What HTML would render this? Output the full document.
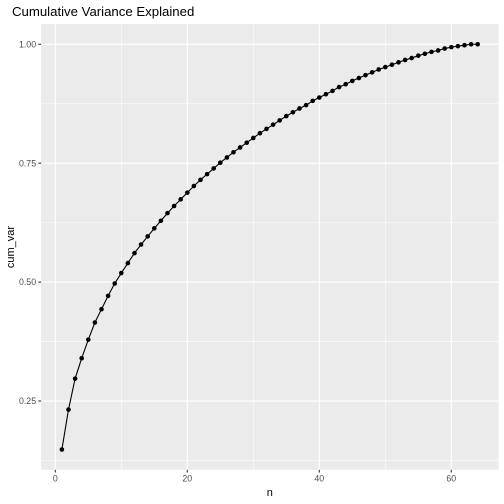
<!DOCTYPE html>
<html><head><meta charset="utf-8"><style>
body{margin:0;background:#fff;}
svg{display:block;font-family:"Liberation Sans",sans-serif;}
</style></head><body>
<svg id="chart" width="504" height="504">
<text x="12" y="16" font-size="13.2" fill="#000">Cumulative Variance Explained</text>
<rect x="41.1" y="24" width="457.4" height="445.8" fill="#EBEBEB"/>
<g id="grid"></g>
<g id="axes"></g>
<g id="marks"></g>
<text x="269.8" y="496" font-size="11" text-anchor="middle" fill="#000">n</text>
<text transform="translate(14,247) rotate(-90)" font-size="11" text-anchor="middle" fill="#000">cum_var</text>
</svg>
<script>
const nValues = Array.from({length:64},(_, i)=>i+1);
const cumVar = [0.148,0.232,0.297,0.340,0.379,0.415,0.443,0.471,0.497,0.519,0.540,0.561,0.579,0.596,0.613,0.629,0.645,0.660,0.674,0.688,0.702,0.715,0.727,0.739,0.751,0.762,0.773,0.783,0.793,0.803,0.813,0.822,0.831,0.840,0.849,0.857,0.865,0.872,0.881,0.888,0.895,0.902,0.910,0.916,0.923,0.929,0.935,0.941,0.947,0.952,0.957,0.962,0.967,0.971,0.976,0.980,0.984,0.987,0.991,0.994,0.996,0.998,1.000,1.000];
const xTicks = [0,20,40,60];
const xMinor = [10,30,50];
const yTicks = [0.25,0.50,0.75,1.00];
const yTickLabels = ["0.25","0.50","0.75","1.00"];
const yMinor = [0.125,0.375,0.625,0.875];

const NS="http://www.w3.org/2000/svg";
const L=41.1,R=498.5,T=24,B=469.8;
const xmin=Math.min(...nValues),xmax=Math.max(...nValues);
const ymin=Math.min(...cumVar),ymax=Math.max(...cumVar);
const xpad=(xmax-xmin)*0.05,ypad=(ymax-ymin)*0.05;
const X=v=>L+(v-(xmin-xpad))/((xmax+xpad)-(xmin-xpad))*(R-L);
const Y=v=>B-(v-(ymin-ypad))/((ymax+ypad)-(ymin-ypad))*(B-T);
function mk(tag,attrs,parent){const e=document.createElementNS(NS,tag);for(const k in attrs)e.setAttribute(k,attrs[k]);document.getElementById(parent).appendChild(e);return e;}
const grid="grid",axes="axes",marks="marks";
yMinor.forEach(v=>{if(Y(v)<T||Y(v)>B)return;const e=mk('line',{x1:L,x2:R,y1:Y(v),y2:Y(v),stroke:'#fff','stroke-width':0.55},grid);

});
xMinor.forEach(v=>{const e=mk('line',{x1:X(v),x2:X(v),y1:T,y2:B,stroke:'#fff','stroke-width':0.55},grid);

});
yTicks.forEach((v,i)=>{const e=mk('line',{x1:L,x2:R,y1:Y(v),y2:Y(v),stroke:'#fff','stroke-width':1.1},grid);


const t=mk('line',{x1:L-2.75,x2:L,y1:Y(v),y2:Y(v),stroke:'#333','stroke-width':1.1},axes);


const tx=mk('text',{x:L-5,y:Y(v)+3.1,'font-size':8.8,'text-anchor':'end',fill:'#4D4D4D'},axes);
tx.textContent=yTickLabels[i];

});
xTicks.forEach(v=>{const e=mk('line',{x1:X(v),x2:X(v),y1:T,y2:B,stroke:'#fff','stroke-width':1.1},grid);


const t=mk('line',{x1:X(v),x2:X(v),y1:B,y2:B+2.75,stroke:'#333','stroke-width':1.1},axes);


const tx=mk('text',{x:X(v),y:B+11.5,'font-size':8.8,'text-anchor':'middle',fill:'#4D4D4D'},axes);
tx.textContent=String(v);

});
const pts=nValues.map((n,i)=>X(n).toFixed(2)+','+Y(cumVar[i]).toFixed(2)).join(' ');
const line=mk('polyline',{points:pts,fill:'none',stroke:'#000','stroke-width':1.1},marks);


nValues.forEach((n,i)=>{const c=mk('circle',{cx:X(n),cy:Y(cumVar[i]),r:2.3,fill:'#000'},marks);

});
</script>
</body></html>
